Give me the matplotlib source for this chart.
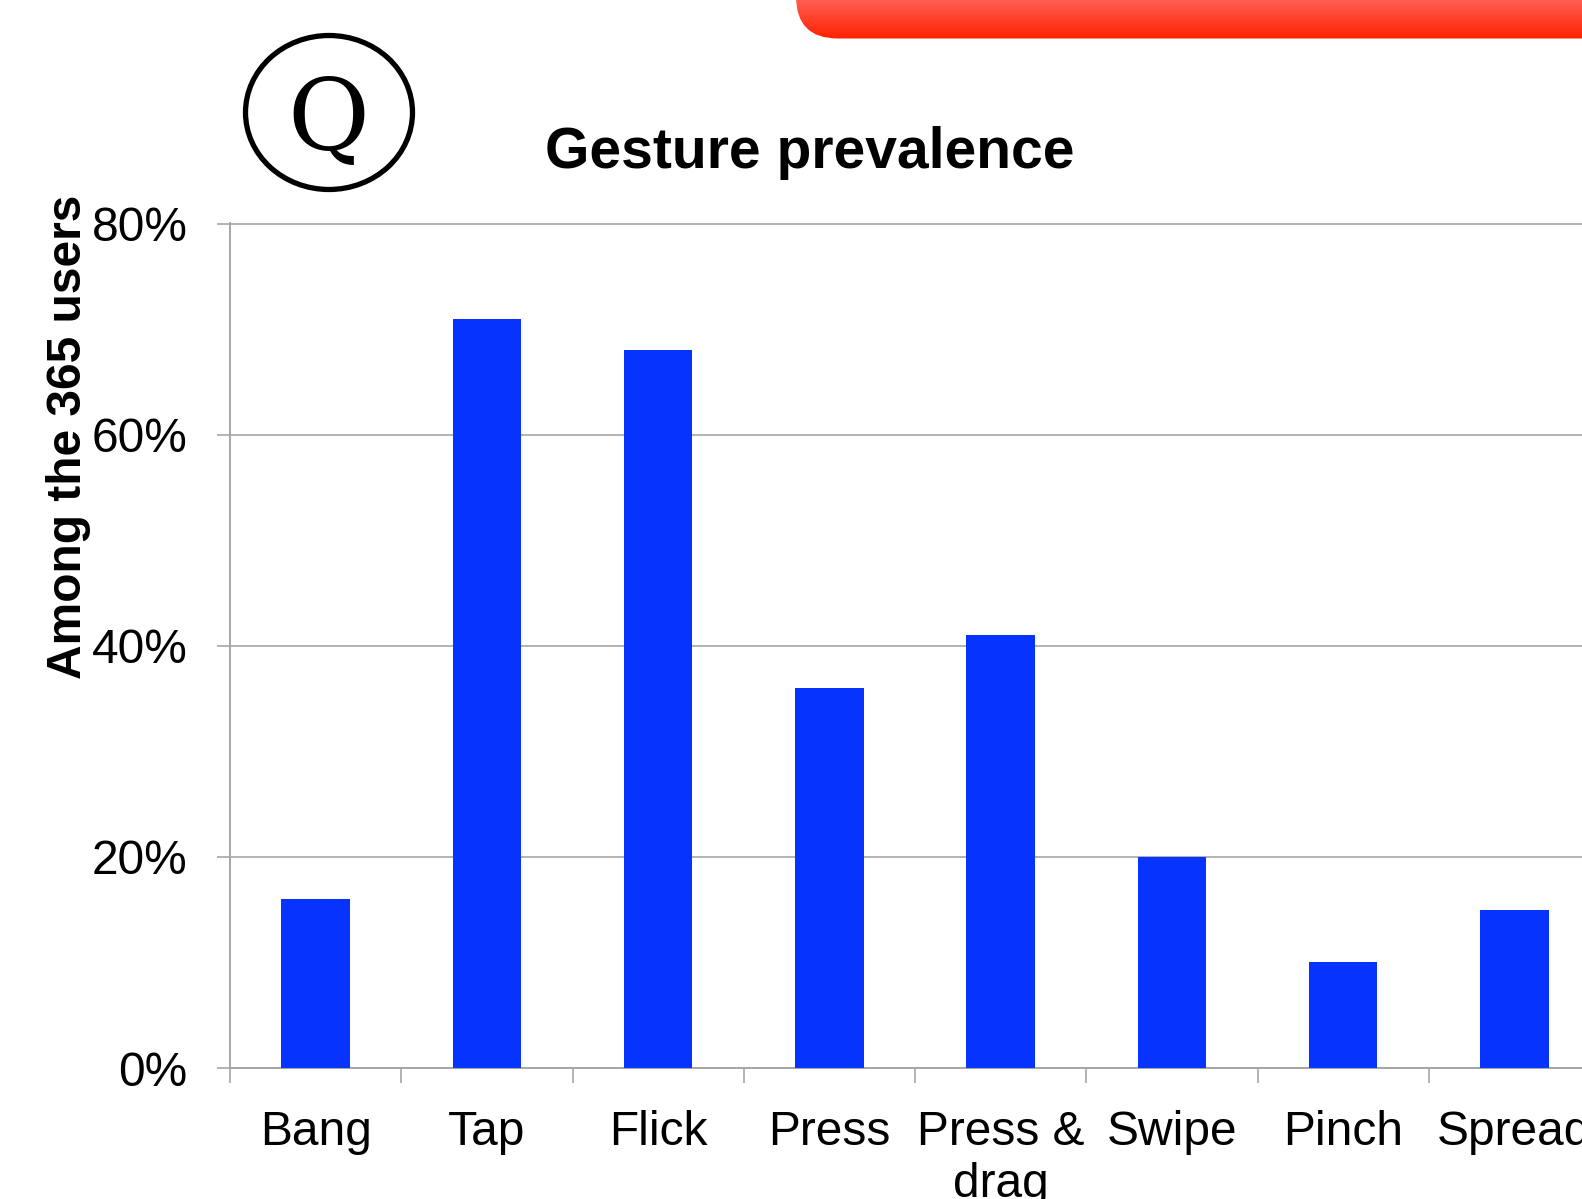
import numpy as np
import matplotlib.pyplot as plt
from matplotlib.patches import Ellipse, FancyBboxPatch
from matplotlib.ticker import PercentFormatter

plt.rcParams["font.family"] = ["Liberation Sans", "DejaVu Sans"]

gestures = ["Bang", "Tap", "Flick", "Press", "Press &\ndrag", "Swipe", "Pinch", "Spread"]
share = [0.16, 0.71, 0.68, 0.36, 0.41, 0.20, 0.10, 0.15]
y_ticks = [0.0, 0.2, 0.4, 0.6, 0.8]

W, H = 1582, 1199
bar_color = "#0733ff"
grid_color = "#a6a6a6"

fig = plt.figure(figsize=(W / 100, H / 100), dpi=100)
ax = fig.add_axes([230 / W, 131 / H, 1370 / W, 845 / H])

x = np.arange(len(gestures))
ax.bar(x, share, width=0.4, color=bar_color, zorder=3)

ax.set_xlim(-0.5, len(gestures) - 0.5)
ax.set_ylim(0, 0.8005)
ax.set_yticks(y_ticks)
ax.yaxis.set_major_formatter(PercentFormatter(1.0, decimals=0))
ax.yaxis.grid(True, color=grid_color, linewidth=1.2, zorder=0)

ax.set_xticks(x)
ax.set_xticklabels(gestures)
ax.set_xticks(np.arange(len(gestures)) - 0.5, minor=True)
ax.tick_params(axis="x", which="major", length=0, pad=30, labelsize=34.5)
ax.tick_params(axis="x", which="minor", length=11, width=1.2, color=grid_color)
ax.tick_params(axis="y", length=9.5, width=1.2, color=grid_color, pad=21, labelsize=34.5)

for side in ["top", "right"]:
    ax.spines[side].set_visible(False)
for side in ["left", "bottom"]:
    ax.spines[side].set_color(grid_color)
    ax.spines[side].set_linewidth(1.4)

fig.text(810 / W, 1 - 153 / H, "Gesture prevalence", fontsize=41, fontweight="bold",
         ha="center", va="center")
fig.text(69 / W, 1 - 437 / H, "Among the 365 users", fontsize=34.5, fontweight="bold",
         rotation=90, ha="center", va="center")

# decorations in pixel coordinates
deco = fig.add_axes([0, 0, 1, 1])
deco.set_xlim(0, W)
deco.set_ylim(H, 0)
deco.axis("off")

banner = FancyBboxPatch((796 + 42, -120 + 42), 1000 - 84, 158.5 - 84,
                        boxstyle="round,pad=42", facecolor="none", edgecolor="none")
deco.add_patch(banner)
grad = np.linspace(0, 1, 256)[:, None]
top_c = np.array([1.0, 0.38, 0.34])
bot_c = np.array([1.0, 0.13, 0.0])
img = top_c[None, None, :] * (1 - grad[..., None]) + bot_c[None, None, :] * grad[..., None]
img = np.repeat(img, 2, axis=1)
im = deco.imshow(img, extent=(780, 1600, 39, -2), aspect="auto", interpolation="bilinear")
im.set_clip_path(banner)

deco.add_patch(Ellipse((329, 112.5), 167, 154, facecolor="none", edgecolor="black",
                       linewidth=3.8))
deco.text(328, 122, "Q", fontsize=72, family="DejaVu Serif", ha="center", va="center")

fig.savefig("out.png", dpi=100)
